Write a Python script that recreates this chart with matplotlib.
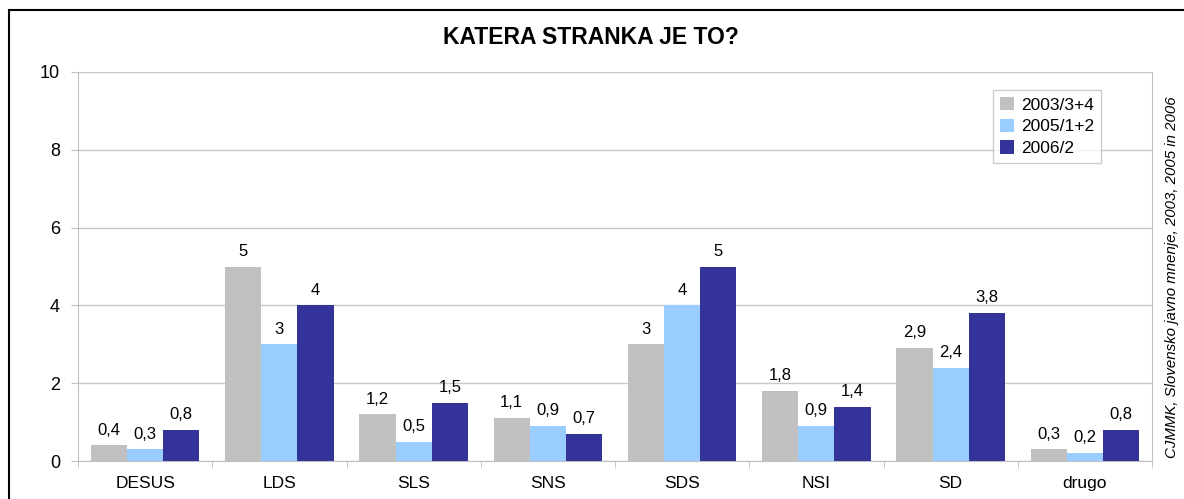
import numpy as np
import matplotlib
matplotlib.use('Agg')
import matplotlib.pyplot as plt
from matplotlib.patches import Rectangle

plt.rcParams['font.family'] = ['Liberation Sans', 'DejaVu Sans']

categories = ['DESUS', 'LDS', 'SLS', 'SNS', 'SDS', 'NSI', 'SD', 'drugo']
series_names = ['2003/3+4', '2005/1+2', '2006/2']
v2003 = [0.4, 5, 1.2, 1.1, 3, 1.8, 2.9, 0.3]
v2005 = [0.3, 3, 0.5, 0.9, 4, 0.9, 2.4, 0.2]
v2006 = [0.8, 4, 1.5, 0.7, 5, 1.4, 3.8, 0.8]
colors = ['#C0C0C0', '#99CCFF', '#333399']

fig = plt.figure(figsize=(11.84, 4.99), dpi=100)
ax = fig.add_axes([78 / 1184, 1 - 461 / 499, (1152 - 78) / 1184, (461 - 72) / 499])

# frame around the whole chart
fig.patches.append(Rectangle((9 / 1184, -0.1), 1.2, 1 - 10 / 499 + 0.1,
                             transform=fig.transFigure, fill=False,
                             edgecolor='black', linewidth=1.5))

x = np.arange(len(categories))
w = 0.27
for i, (vals, name, c) in enumerate(zip([v2003, v2005, v2006], series_names, colors)):
    pos = x + (i - 1) * w
    ax.bar(pos, vals, w, color=c, label=name, zorder=3)
    for p, v in zip(pos, vals):
        ax.text(p, v + 0.2, str(v).replace('.', ','), ha='center', va='bottom',
                fontsize=12, zorder=4)

ax.set_xlim(-0.5, len(categories) - 0.5)
ax.set_ylim(0, 10)
ax.set_yticks([0, 2, 4, 6, 8, 10])
ax.grid(axis='y', color='#C8C8C8', linewidth=1, zorder=0)
ax.set_xticks(x)
ax.set_xticklabels(categories, fontsize=12.5)
ax.set_xticks(np.arange(len(categories) + 1) - 0.5, minor=True)
ax.tick_params(axis='x', which='major', length=0, pad=11)
ax.tick_params(axis='x', which='minor', length=5, color='#C0C0C0')
ax.tick_params(axis='y', labelsize=13, length=5, color='#C0C0C0', pad=8)
for s in ['left', 'right', 'bottom']:
    ax.spines[s].set_color('#C0C0C0')
ax.spines['top'].set_visible(False)

fig.text(591 / 1184, 1 - 38 / 499, 'KATERA STRANKA JE TO?', ha='center', va='center',
         fontsize=16.5, fontweight='bold')

leg = ax.legend(loc='upper left', bbox_to_anchor=((993 - 78) / 1074, (461 - 90) / 389),
                fontsize=12.5, frameon=True, fancybox=False, edgecolor='#C0C0C0',
                handlelength=0.8, handleheight=0.8, handletextpad=0.4,
                borderpad=0.4, labelspacing=0.35, borderaxespad=0)
leg.get_frame().set_linewidth(1)

fig.text(1172 / 1184, 1 - 277 / 499, 'CJMMK, Slovensko javno mnenje, 2003, 2005 in 2006',
         rotation=90, ha='center', va='center', fontsize=10.8, style='italic')

fig.savefig('out.png', dpi=100)
